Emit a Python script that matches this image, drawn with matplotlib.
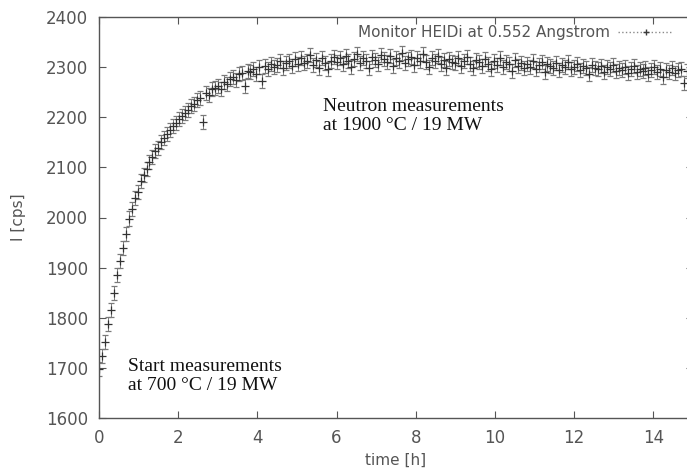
#!/usr/bin/env python

import numpy as np
from matplotlib import pyplot as plt
from matplotlib.lines import Line2D


STEP_H = 0.075          # measurement cadence in hours
ERR_CPS = 14            # counting error on each point

# monitor counts, one row per 0.6 h (8 points per row)
INTENSITY = [
    1698, 1724, 1752, 1788, 1816, 1850, 1886, 1914,
    1940, 1968, 1998, 2016, 2038, 2050, 2072, 2084,
    2096, 2110, 2120, 2132, 2138, 2150, 2158, 2166,
    2174, 2182, 2188, 2196, 2202, 2208, 2214, 2222,
    2226, 2234, 2238, 2190, 2248, 2244, 2256, 2258,
    2262, 2256, 2270, 2266, 2276, 2280, 2274, 2286,
    2288, 2262, 2292, 2290, 2296, 2286, 2300, 2272,
    2302, 2296, 2306, 2300, 2304, 2312, 2298, 2308,
    2312, 2302, 2316, 2306, 2318, 2308, 2312, 2324,
    2304, 2314, 2298, 2318, 2308, 2296, 2312, 2320,
    2310, 2318, 2306, 2322, 2312, 2300, 2316, 2326,
    2308, 2318, 2312, 2298, 2320, 2314, 2306, 2324,
    2316, 2310, 2322, 2302, 2318, 2312, 2328, 2308,
    2316, 2320, 2304, 2318, 2312, 2326, 2310, 2300,
    2318, 2312, 2322, 2306, 2314, 2298, 2316, 2310,
    2308, 2318, 2302, 2312, 2320, 2306, 2298, 2314,
    2310, 2302, 2316, 2306, 2296, 2312, 2304, 2318,
    2300, 2310, 2306, 2292, 2314, 2302, 2308, 2298,
    2306, 2300, 2312, 2296, 2304, 2310, 2290, 2306,
    2302, 2298, 2308, 2294, 2304, 2300, 2310, 2296,
    2300, 2306, 2294, 2302, 2298, 2286, 2304, 2298,
    2296, 2302, 2290, 2300, 2296, 2304, 2292, 2298,
    2294, 2300, 2288, 2296, 2302, 2290, 2296, 2292,
    2298, 2286, 2294, 2300, 2290, 2296, 2280, 2294,
    2290, 2298, 2288, 2294, 2296, 2268, 2292,
]

LEGEND_LABEL = 'Monitor HEIDi at 0.552 Angstrom'
NOTE_END = 'Neutron measurements\nat 1900 °C / 19 MW'
NOTE_START = 'Start measurements\nat 700 °C / 19 MW'

intensity = np.array(INTENSITY, dtype=float)
time_h = np.arange(len(intensity)) * STEP_H

W, H = 687, 472
fig = plt.figure(figsize=(W/100., H/100.), dpi=100)
# plot box: x 0 at px 99, 15 at px 693 (cut by image edge); y 1600 at px 418, 2400 at px 17
ax = fig.add_axes([99./W, 1 - 418./H, (693 - 99.)/W, (418 - 17.)/H])

ax.errorbar(time_h, intensity, yerr=ERR_CPS, fmt='+', ms=6, mew=0.9,
            color='#333333', ecolor='#7a7a7a', elinewidth=0.7,
            capsize=2.5, capthick=0.7)

ax.set_xlim(0, 15)
ax.set_ylim(1600, 2400)
ax.set_xticks(np.arange(0, 15, 2))
ax.set_yticks(np.arange(1600, 2401, 100))

for s in ax.spines.values():
    s.set_color('#555555')
    s.set_linewidth(1.0)
ax.tick_params(direction='in', length=5, width=0.8, color='#555555',
               top=True, right=True, labelsize=12, labelcolor='#555555', pad=8)

ax.set_xlabel('time [h]', fontsize=11, color='#555555', labelpad=4)
ax.set_ylabel('I [cps]', fontsize=11, color='#555555', labelpad=14)

handle = Line2D([], [], color='#8a8a8a', ls=':', lw=1.0, marker='+',
                ms=5, mec='#3a3a3a')
ax.legend([handle], [LEGEND_LABEL], loc='center right',
          bbox_to_anchor=(673./W, 1 - 33./H), bbox_transform=fig.transFigure,
          frameon=False, markerfirst=False, fontsize=11, borderpad=0,
          borderaxespad=0, handlelength=3.6, handletextpad=0.5,
          labelcolor='#555555')

ax.text(5.65, 2203, NOTE_END, fontsize=14, family='Liberation Serif',
        color='#111111', va='center', ha='left', linespacing=1.15)
ax.text(0.72, 1684, NOTE_START, fontsize=14, family='Liberation Serif',
        color='#111111', va='center', ha='left', linespacing=1.15)

fig.savefig('out.png', dpi=100)
